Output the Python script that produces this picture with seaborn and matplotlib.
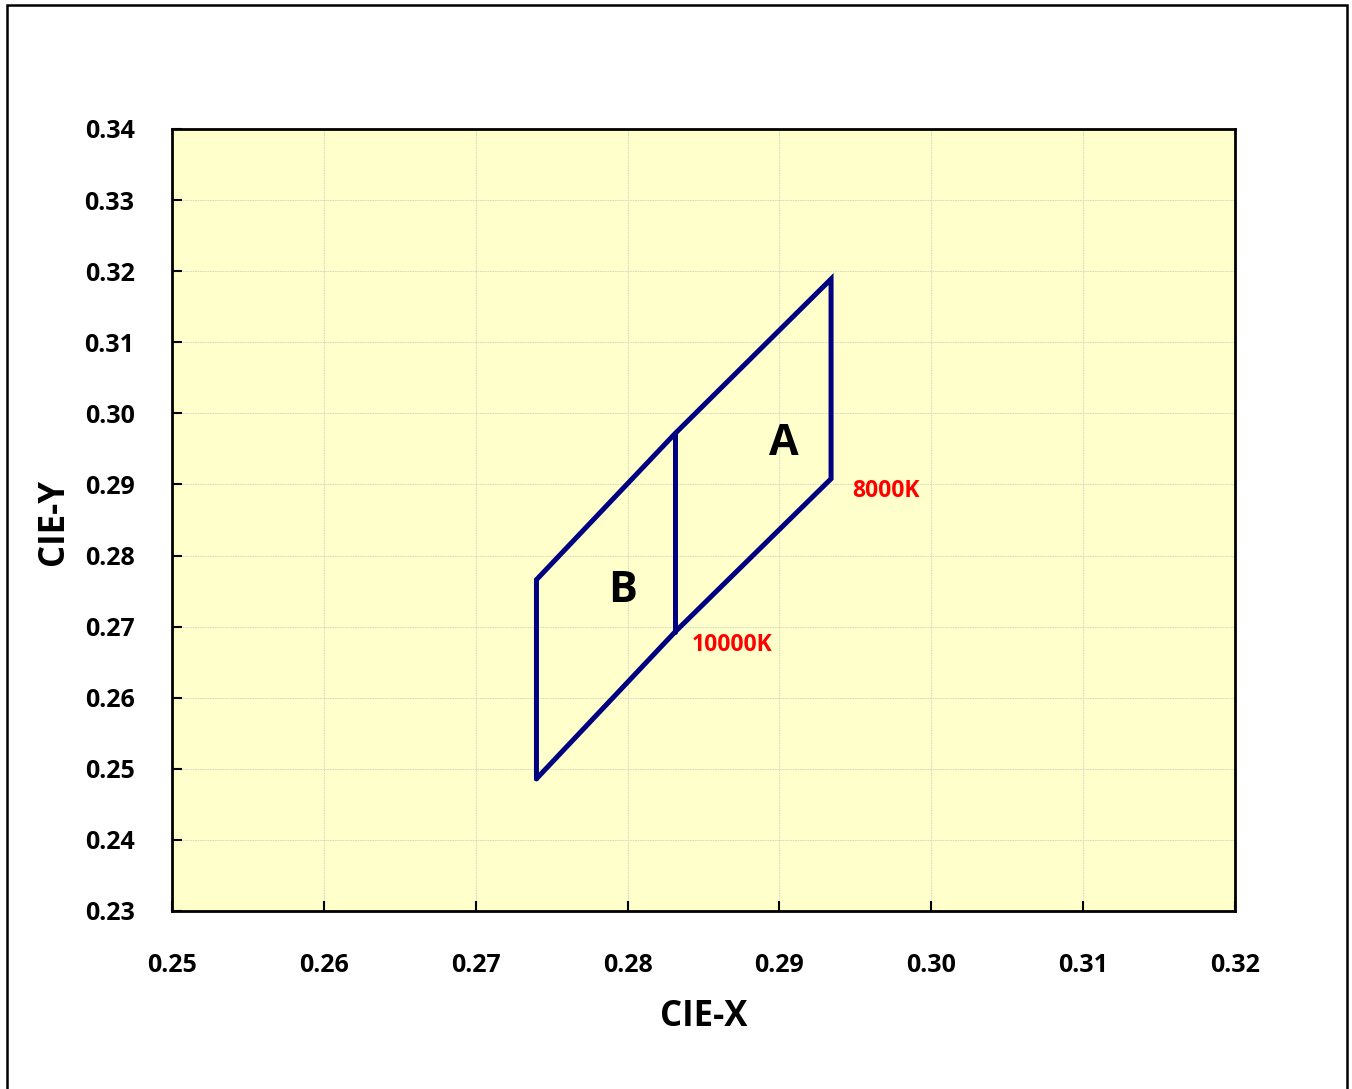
import matplotlib
matplotlib.use("Agg")
import matplotlib.pyplot as plt
import seaborn as sns
import pandas as pd
from matplotlib.patches import Rectangle

# Data
outline_x = [0.2740, 0.2740, 0.2831, 0.2934, 0.2934, 0.2831, 0.2740]
outline_y = [0.2486, 0.2766, 0.2971, 0.3189, 0.2908, 0.2692, 0.2486]
divider_x = [0.2831, 0.2831]
divider_y = [0.2971, 0.2692]
region_labels = ["A", "B"]
region_x = [0.2903, 0.2797]
region_y = [0.2958, 0.2751]
cct_labels = ["8000K", "10000K"]
cct_x = [0.2948, 0.2842]
cct_y = [0.2891, 0.2674]
xticks = [0.25, 0.26, 0.27, 0.28, 0.29, 0.30, 0.31, 0.32]
yticks = [0.23, 0.24, 0.25, 0.26, 0.27, 0.28, 0.29, 0.30, 0.31, 0.32, 0.33, 0.34]

sns.set_theme(style="white")
plt.rcParams['font.family'] = ['Open Sans', 'DejaVu Sans']
plt.rcParams['text.color'] = 'black'
plt.rcParams['axes.labelcolor'] = 'black'
plt.rcParams['xtick.color'] = 'black'
plt.rcParams['ytick.color'] = 'black'

W, H = 1352, 1089
fig = plt.figure(figsize=(W / 100, H / 100), dpi=100)
fig.patch.set_facecolor("white")
ax = fig.add_axes([172 / W, 1 - 911 / H, (1235 - 172) / W, (911 - 129) / H])
ax.set_facecolor("#FFFFCC")

df_out = pd.DataFrame({"x": outline_x, "y": outline_y})
df_div = pd.DataFrame({"x": divider_x, "y": divider_y})
sns.lineplot(data=df_out, x="x", y="y", sort=False, estimator=None, ax=ax,
             color="#000080", linewidth=3.6, zorder=3)
sns.lineplot(data=df_div, x="x", y="y", sort=False, estimator=None, ax=ax,
             color="#000080", linewidth=3.6, zorder=3)
for line in ax.lines:
    line.set_solid_joinstyle("miter")

for t, x, y in zip(region_labels, region_x, region_y):
    ax.text(x, y, t, fontsize=31, fontweight="bold", color="black",
            ha="center", va="center", zorder=4)
for t, x, y in zip(cct_labels, cct_x, cct_y):
    ax.text(x, y, t, fontsize=16.5, fontweight="bold", color="#FF0000",
            ha="left", va="center", zorder=4)

ax.set_xlim(0.25, 0.32)
ax.set_ylim(0.23, 0.34)
ax.set_xticks(xticks)
ax.set_yticks(yticks)
ax.set_xticklabels([f"{v:.2f}" for v in xticks], fontsize=18, fontweight="bold")
ax.set_yticklabels([f"{v:.2f}" for v in yticks], fontsize=18, fontweight="bold")
ax.tick_params(axis="x", direction="in", length=7, width=1.5, color="black", pad=30, bottom=True)
ax.tick_params(axis="y", direction="in", length=7, width=1.5, color="black", pad=27, left=True)
ax.grid(True, color="#D2D2C8", linestyle=(0, (2, 1)), linewidth=0.6)
ax.set_axisbelow(True)
for s in ax.spines.values():
    s.set_visible(True)
    s.set_color("black")
    s.set_linewidth(2)

ax.set_xlabel("CIE-X", fontsize=25, fontweight="bold")
ax.set_ylabel("CIE-Y", fontsize=25, fontweight="bold")
ax.xaxis.set_label_coords(0.5, -0.113)
ax.yaxis.set_label_coords(-0.094, 0.497)

fig.patches.append(Rectangle((7 / W, -0.01), (1347 - 7) / W, 1 - 5 / H + 0.01,
                             transform=fig.transFigure, fill=False,
                             edgecolor="black", linewidth=1.8, clip_on=False))

fig.savefig("out.png", dpi=100)
